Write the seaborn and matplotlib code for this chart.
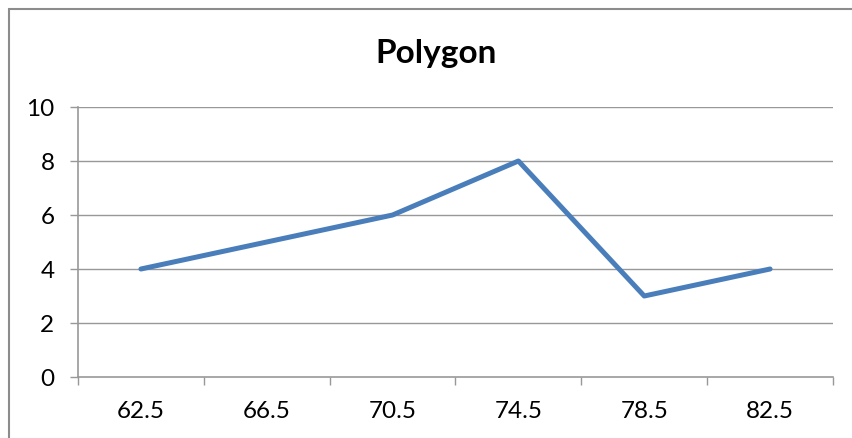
import matplotlib
matplotlib.use("Agg")
import matplotlib.pyplot as plt
from matplotlib.patches import Rectangle
import seaborn as sns
import pandas as pd
import numpy as np

# Frequency polygon data: class midpoints and their frequencies
midpoints = ["62.5", "66.5", "70.5", "74.5", "78.5", "82.5"]
frequencies = [4, 5, 6, 8, 3, 4]
y_ticks = [0, 2, 4, 6, 8, 10]
title = "Polygon"

sns.set_theme(style="white")
plt.rcParams["font.family"] = ["Lato", "DejaVu Sans"]

df = pd.DataFrame({"midpoint": midpoints, "frequency": frequencies})

fig = plt.figure(figsize=(8.53, 4.38), dpi=100)
ax = fig.add_axes([78 / 853, 1 - 377 / 438, (833 - 78) / 853, (377 - 107) / 438])

sns.lineplot(data=df, x="midpoint", y="frequency", ax=ax, color="#4A7EBB",
             linewidth=3.6, solid_joinstyle="round", solid_capstyle="round",
             sort=False)

grid_col = "#989898"
ax.set_xlim(-0.5, len(midpoints) - 0.5)
ax.set_ylim(0, 10)
ax.set_yticks(y_ticks)
ax.set_yticklabels([str(v) for v in y_ticks])
ax.set_xticks(range(len(midpoints)))
ax.set_xticklabels(midpoints)
ax.set_xticks(np.arange(-0.5, len(midpoints), 1.0), minor=True)
ax.set_xlabel("")
ax.set_ylabel("")

for v in y_ticks[1:]:
    ax.axhline(v, color=grid_col, linewidth=1.0, zorder=0)

for side in ["top", "right"]:
    ax.spines[side].set_visible(False)
for side in ["left", "bottom"]:
    ax.spines[side].set_color(grid_col)
    ax.spines[side].set_linewidth(1.2)

ax.tick_params(axis="y", which="major", length=6, width=1.0, color=grid_col,
               direction="out", pad=11, labelsize=17.5, labelcolor="black", left=True)
ax.tick_params(axis="x", which="major", length=0, pad=17, labelsize=17.5,
               labelcolor="black")
ax.tick_params(axis="x", which="minor", length=5.5, width=1.0, color=grid_col,
               direction="out", bottom=True)

# Chart-area frame
fig.patches.append(Rectangle((9 / 853, -0.1), 1.2, 1 - 8.5 / 438 + 0.1,
                             transform=fig.transFigure, fill=False,
                             edgecolor="#8c8c8c", linewidth=1.5))

fig.text(436 / 853, 1 - 63 / 438, title, ha="center", va="baseline",
         fontsize=24, fontweight="bold", color="black")

fig.savefig("out.png", dpi=100)
